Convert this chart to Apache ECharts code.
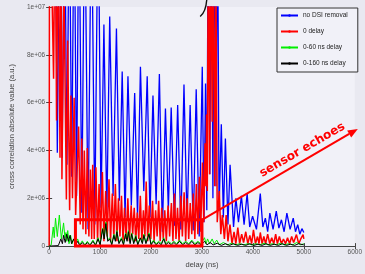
<!DOCTYPE html>
<html>
<head>
<meta charset="UTF-8">
<title>sensor echoes</title>
<script src="https://cdn.jsdelivr.net/npm/echarts@6.0.0/dist/echarts.min.js"></script>
<style>
html, body { margin: 0; padding: 0; background: #e9e9f1; }
#chart { width: 365px; height: 274px; }
</style>
</head>
<body>
<div id="chart"></div>
<script>
// delay (ns), value (a.u.), peaks and troughs
var noDsi = [
	[120,1.5e7],[160,3.9e6],[208,1.5e7],[255,3.7e6],[302,1.5e7],[349,3.4e6],[396,1.5e7],[443,2.9e6],
	[491,1.5e7],[538,2.1e6],[585,1.5e7],[641,1.4e6],[698,1.5e7],[764,0.7e6],[830,1.5e7],[896,0.9e6],
	[962,1.5e7],[1018,1.6e6],[1075,9.27e6],[1132,1.3e6],[1189,9.6e6],[1255,2.1e6],[1321,9.1e6],[1378,1.9e6],
	[1434,7.3e6],[1490,1.2e6],[1547,7.1e6],[1613,1.7e6],[1679,6.4e6],[1735,1.2e6],[1792,7.5e6],[1858,2.3e6],
	[1925,7.1e6],[1980,1.2e6],[2038,6.3e6],[2100,1.75e6],[2164,7.2e6],[2223,0.6e6],[2283,5.75e6],[2340,1.5e6],
	[2396,5.8e6],[2460,0.85e6],[2523,5.9e6],[2585,0.7e6],[2647,6.76e6],[2707,1.0e6],[2768,5.9e6],[2828,0.65e6],
	[2887,6.56e6],[2946,0.4e6],[3006,7.5e6],[3040,1.0e6],[3070,6.8e6],[3095,1.5e6],[3125,1.5e7],[3155,3.0e6],
	[3185,1.5e7],[3215,2.0e6],[3245,1.5e7],[3275,2.5e6],[3305,1.5e7],[3335,1.5e6],[3380,5.1e6],[3420,1.2e6],
	[3460,4.5e6],[3510,0.9e6],[3552,3.4e6],[3620,0.8e6],[3666,2.0e6],[3717,1.0e6],[3774,2.1e6],[3827,0.9e6],
	[3887,2.2e6],[3937,0.8e6],[3994,1.25e6],[4070,0.7e6],[4145,2.2e6],[4195,0.8e6],[4245,1.17e6],[4290,0.6e6],
	[4333,1.38e6],[4396,0.7e6],[4459,1.46e6],[4510,0.75e6],[4560,1.1e6],[4613,0.6e6],[4667,1.38e6],[4730,0.7e6],
	[4792,1.17e6],[4836,0.6e6],[4880,0.9e6],[4921,0.5e6],[4962,0.73e6],[5000,0.57e6]
];
var zeroDelay = [
	[0,0],[8,1.6e7],[87,7.0e6],[118,1.5e7],[145,5.25e6],[178,1.4e7],[213,3.7e6],[232,1.25e7],[251,2.8e6],
	[290,1.1e7],[338,1.95e6],[364,8.6e6],[402,1.5e6],[427,6.3e6],[458,2.0e6],[490,6.2e6],[520,1.3e6],
	[578,5.0e6],[610,0.9e6],[640,4.5e6],[665,0.7e6],[690,4.0e6],[720,0.5e6],[749,4.1e6],[780,0.4e6],
	[810,3.2e6],[835,0.3e6],[855,3.4e6],[885,0.3e6],[918,3.3e6],[950,0.2e6],[980,2.6e6],[1010,0.3e6],
	[1045,3.1e6],[1075,0.2e6],[1110,2.3e6],[1140,0.4e6],[1175,2.8e6],[1205,0.2e6],[1240,2.2e6],[1270,0.3e6],
	[1300,2.6e6],[1330,0.2e6],[1360,2.0e6],[1390,0.4e6],[1420,2.1e6],[1450,0.2e6],[1480,1.6e6],[1510,0.3e6],
	[1545,2.0e6],[1575,0.2e6],[1610,1.7e6],[1640,0.5e6],[1670,1.6e6],[1700,0.2e6],[1730,1.4e6],[1760,0.3e6],
	[1790,2.1e6],[1820,0.2e6],[1850,1.5e6],[1880,0.4e6],[1905,2.7e6],[1935,0.2e6],[1965,1.7e6],[1995,0.3e6],
	[2030,1.9e6],[2060,0.2e6],[2090,1.5e6],[2120,0.4e6],[2150,1.9e6],[2180,0.2e6],[2210,1.6e6],[2240,0.3e6],
	[2270,1.5e6],[2300,0.2e6],[2335,1.7e6],[2365,0.4e6],[2400,1.8e6],[2430,0.2e6],[2460,2.2e6],[2490,0.3e6],
	[2520,1.6e6],[2550,0.2e6],[2585,2.1e6],[2615,0.4e6],[2650,2.25e6],[2680,0.2e6],[2710,2.0e6],[2740,0.3e6],
	[2770,1.8e6],[2800,0.5e6],[2830,2.2e6],[2860,0.3e6],[2890,2.6e6],[2920,0.5e6],[2950,2.9e6],[2975,0.6e6],
	[3010,3.5e6],[3035,1.0e6],[3060,4.3e6],[3078,2.5e6],[3090,5.5e6],[3105,2.3e6],[3125,1.4e7],[3150,3.0e6],
	[3175,1.4e7],[3200,5.2e6],[3225,1.3e7],[3250,2.5e6],[3275,1.1e7],[3300,1.0e6],[3340,2.3e6],[3370,0.5e6],
	[3400,1.3e6],[3440,0.3e6],[3475,1.3e6],[3510,0.2e6],[3550,0.9e6],[3590,0.1e6],[3630,0.6e6],[3665,0.1e6],
	[3704,0.77e6],[3740,0.1e6],[3780,0.5e6],[3817,0.15e6],[3860,0.6e6],[3900,0.1e6],[3940,0.45e6],[3975,0.1e6],
	[4011,0.68e6],[4050,0.1e6],[4090,0.4e6],[4120,0.1e6],[4145,0.57e6],[4180,0.1e6],[4215,0.4e6],[4250,0.1e6],
	[4290,0.5e6],[4330,0.1e6],[4370,0.35e6],[4410,0.1e6],[4447,0.5e6],[4480,0.1e6],[4520,0.4e6],[4560,0.1e6],
	[4600,0.3e6],[4640,0.1e6],[4680,0.35e6],[4720,0.1e6],[4761,0.4e6],[4800,0.15e6],[4855,0.48e6],[4900,0.1e6],
	[4940,0.3e6],[4985,0.48e6],[5000,0.3e6]
];
var delay60 = [
	[0,0],[40,0.05e6],[80,0.8e6],[100,0.35e6],[125,1.17e6],[160,0.4e6],[200,1.3e6],[240,0.3e6],[283,0.97e6],
	[310,0.35e6],[330,0.57e6],[345,0.2e6],[365,0.65e6],[390,0.1e6],[420,0.46e6],[450,0.1e6],[485,0.3e6],
	[515,0.05e6],[560,0.3e6],[600,0.05e6],[650,0.22e6],[700,0.05e6],[750,0.2e6],[800,0.05e6],[860,0.25e6],
	[910,0.05e6],[960,0.35e6],[1000,0.1e6],[1050,0.75e6],[1080,0.35e6],[1113,1.0e6],[1150,0.25e6],[1190,0.35e6],
	[1230,0.1e6],[1270,0.5e6],[1300,0.25e6],[1330,0.65e6],[1370,0.15e6],[1420,0.35e6],[1460,0.1e6],[1500,0.55e6],
	[1530,0.25e6],[1556,0.65e6],[1590,0.15e6],[1620,0.55e6],[1660,0.15e6],[1700,0.45e6],[1740,0.1e6],[1790,0.35e6],
	[1830,0.15e6],[1860,0.5e6],[1900,0.15e6],[1960,0.55e6],[2000,0.1e6],[2050,0.25e6],[2100,0.1e6],[2150,0.2e6],
	[2200,0.1e6],[2250,0.35e6],[2290,0.1e6],[2340,0.2e6],[2400,0.1e6],[2450,0.2e6],[2500,0.1e6],[2560,0.25e6],
	[2620,0.1e6],[2680,0.2e6],[2740,0.1e6],[2800,0.25e6],[2860,0.1e6],[2920,0.2e6],[2980,0.1e6],[3050,0.35e6],
	[3080,0.1e6],[3110,0.3e6],[3150,0.1e6],[3200,0.3e6],[3240,0.1e6],[3290,0.25e6],[3340,0.05e6],[3420,0.15e6],
	[3500,0.05e6],[3580,0.12e6],[3660,0.05e6],[3740,0.1e6],[3820,0.05e6],[3900,0.1e6],[3980,0.05e6],[4060,0.1e6],
	[4140,0.05e6],[4220,0.12e6],[4300,0.05e6],[4380,0.1e6],[4460,0.05e6],[4540,0.12e6],[4620,0.05e6],[4700,0.1e6],
	[4780,0.05e6],[4860,0.15e6],[4940,0.05e6],[5000,0.1e6]
];
var delay160 = [
	[0,0],[180,0.02e6],[230,0.3e6],[260,0.1e6],[283,0.45e6],[315,0.15e6],[345,0.5e6],[380,0.2e6],[410,0.45e6],
	[440,0.1e6],[480,0.3e6],[520,0.05e6],[560,0.2e6],[600,0.03e6],[650,0.15e6],[700,0.03e6],[750,0.15e6],
	[800,0.03e6],[860,0.2e6],[910,0.03e6],[960,0.3e6],[1000,0.05e6],[1050,0.7e6],[1080,0.3e6],[1113,0.94e6],
	[1150,0.2e6],[1190,0.3e6],[1230,0.05e6],[1270,0.45e6],[1300,0.2e6],[1330,0.6e6],[1370,0.1e6],[1420,0.3e6],
	[1460,0.05e6],[1500,0.5e6],[1530,0.2e6],[1556,0.6e6],[1590,0.1e6],[1620,0.5e6],[1660,0.1e6],[1700,0.4e6],
	[1740,0.05e6],[1790,0.34e6],[1830,0.1e6],[1860,0.45e6],[1900,0.1e6],[1960,0.5e6],[2000,0.05e6],[2050,0.2e6],
	[2100,0.05e6],[2150,0.15e6],[2200,0.05e6],[2250,0.3e6],[2290,0.05e6],[2340,0.15e6],[2400,0.05e6],[2450,0.15e6],
	[2500,0.05e6],[2560,0.2e6],[2620,0.05e6],[2680,0.15e6],[2740,0.05e6],[2800,0.2e6],[2860,0.05e6],[2920,0.15e6],
	[2980,0.05e6],[3050,0.2e6],[3100,0.05e6],[3160,0.15e6],[3220,0.05e6],[3300,0.12e6],[3380,0.03e6],[3460,0.1e6],
	[3540,0.03e6],[3620,0.1e6],[3700,0.03e6],[3780,0.08e6],[3860,0.03e6],[3940,0.1e6],[4020,0.03e6],[4100,0.08e6],
	[4180,0.03e6],[4260,0.1e6],[4340,0.03e6],[4420,0.08e6],[4500,0.03e6],[4580,0.1e6],[4660,0.03e6],[4740,0.08e6],
	[4820,0.03e6],[4900,0.1e6],[5000,0.05e6]
];
var seriesNames = ['no DSI removal', '0 delay', '0-60 ns delay', '0-160 ns delay'];
var yTickLabels = ['0', '2e+06', '4e+06', '6e+06', '8e+06', '1e+07'];

// annotation anchors, in data units
var boxCorners = [[516, 0], [3000, 1.1e6]];
var arrowEnds = [[3000, 1.1e6], [6060, 4.9e6]];
var echoLabel = [4970, 4.02e6];
var arcEnds = [[2965, 9.6e6], [3095, 1.035e7]];

var chart = echarts.init(document.getElementById('chart'));
var axisCol = '#444';
var lbl = { fontFamily: 'Liberation Sans', fontSize: 6.5, color: '#555' };

function mkSeries(name, data, color, width) {
	return {
		name: name, type: 'line', data: data, showSymbol: false,
		symbol: 'circle', symbolSize: 2,
		itemStyle: { color: color },
		lineStyle: { color: color, width: width },
		animation: false
	};
}

var option = {
	backgroundColor: '#e9e9f1',
	animation: false,
	grid: { left: 41, top: 7, right: 6, bottom: 19, show: true, backgroundColor: '#f1f1f8', borderWidth: 0 },
	legend: {
		orient: 'vertical', left: 277, top: 8,
		itemWidth: 17, itemHeight: 3, itemGap: 9,
		padding: [4, 10, 5, 3],
		borderColor: '#333', borderWidth: 1, backgroundColor: '#f1f1f8',
		textStyle: { fontFamily: 'Liberation Sans', fontSize: 6.5, color: '#222' },
		data: seriesNames
	},
	xAxis: [{
		type: 'value', min: 0, max: 6000, interval: 1000,
		name: 'delay (ns)', nameLocation: 'middle', nameGap: 10,
		nameTextStyle: { fontFamily: 'Liberation Sans', fontSize: 7.5, color: '#444' },
		axisLine: { lineStyle: { color: axisCol, width: 1 } },
		axisTick: { inside: true, length: 3, lineStyle: { color: axisCol } },
		axisLabel: Object.assign({ margin: 3, formatter: function (v) { return String(v); } }, lbl),
		splitLine: { show: false }
	}, {
		type: 'value', min: 0, max: 6000, interval: 1000, position: 'top',
		axisLine: { show: true, lineStyle: { color: axisCol, width: 1 } },
		axisTick: { inside: true, length: 3, lineStyle: { color: axisCol } },
		axisLabel: { show: false }, splitLine: { show: false }
	}],
	yAxis: [{
		type: 'value', min: 0, max: 1e7, interval: 2e6,
		name: 'cross correlation absolute value (a.u.)', nameLocation: 'middle', nameGap: 29,
		nameTextStyle: { fontFamily: 'Liberation Sans', fontSize: 7.5, color: '#444' },
		axisLine: { show: true, lineStyle: { color: axisCol, width: 1 } },
		axisTick: { show: true, inside: true, length: 3, lineStyle: { color: axisCol } },
		axisLabel: Object.assign({ margin: 4, formatter: function (v) { return yTickLabels[Math.round(v / 2e6)]; } }, lbl),
		splitLine: { show: false }
	}, {
		type: 'value', min: 0, max: 1e7, interval: 2e6, position: 'right',
		axisLine: { show: true, lineStyle: { color: axisCol, width: 1 } },
		axisTick: { show: true, inside: true, length: 3, lineStyle: { color: axisCol } },
		axisLabel: { show: false }, splitLine: { show: false }
	}],
	series: [
		mkSeries(seriesNames[0], noDsi, '#0000ff', 1.3),
		mkSeries(seriesNames[1], zeroDelay, '#ff0000', 1.5),
		mkSeries(seriesNames[2], delay60, '#00ee00', 1),
		mkSeries(seriesNames[3], delay160, '#000000', 1)
	]
};
chart.setOption(option);

// red box, arrow and label drawn on top
var px = function (p) { return chart.convertToPixel({ gridIndex: 0 }, p); };
var b0 = px(boxCorners[0]), b1 = px(boxCorners[1]);
var a0 = px(arrowEnds[0]), a1 = px(arrowEnds[1]);
var dx = a1[0] - a0[0], dy = a1[1] - a0[1], len = Math.sqrt(dx * dx + dy * dy);
var ux = dx / len, uy = dy / len, hl = 10, hw = 4;
var base = [a1[0] - ux * hl, a1[1] - uy * hl];
var lp = px(echoLabel);
var c0 = px(arcEnds[0]), c1 = px(arcEnds[1]);

chart.setOption({
	graphic: [
		{ type: 'rect', z: 100, shape: { x: b0[0], y: b1[1], width: b1[0] - b0[0], height: b0[1] - b1[1] },
			style: { fill: 'none', stroke: '#ff0000', lineWidth: 3 } },
		{ type: 'line', z: 100, shape: { x1: a0[0], y1: a0[1], x2: base[0], y2: base[1] },
			style: { stroke: '#ff0000', lineWidth: 2 } },
		{ type: 'polygon', z: 100, shape: { points: [a1,
			[base[0] - uy * hw, base[1] + ux * hw], [base[0] + uy * hw, base[1] - ux * hw]] },
			style: { fill: '#ff0000' } },
		{ type: 'text', z: 100, x: lp[0], y: lp[1], rotation: Math.atan2(-dy, dx),
			style: { text: 'sensor echoes', fill: '#ff0000', font: 'bold 12px "DejaVu Sans"', align: 'center', verticalAlign: 'middle' } },
		{ type: 'bezierCurve', z: 100, shape: { x1: c0[0], y1: c0[1], x2: c1[0], y2: c1[1], cpx1: c0[0] + 6, cpy1: c0[1] - 5 },
			style: { stroke: '#111', lineWidth: 1.4, fill: 'none' } }
	]
});
</script>
</body>
</html>
